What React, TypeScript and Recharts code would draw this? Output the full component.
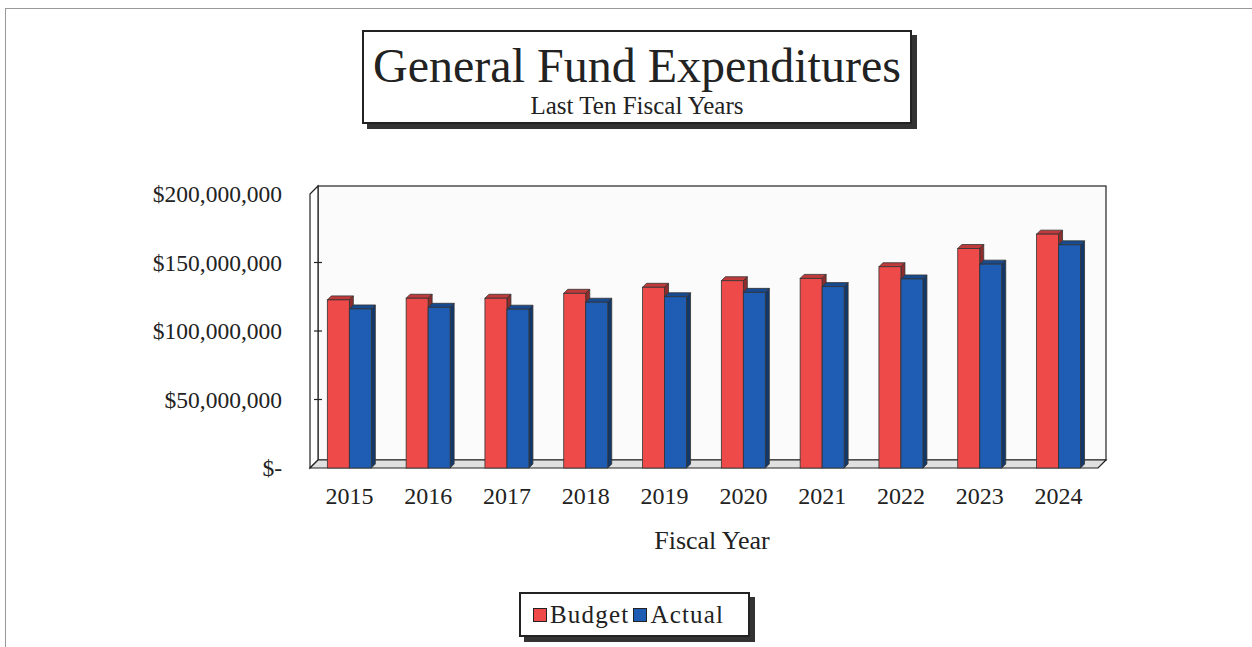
import React from 'react';
import { BarChart, Bar, XAxis, YAxis, ReferenceArea, Legend } from 'recharts';

const years = ['2015', '2016', '2017', '2018', '2019', '2020', '2021', '2022', '2023', '2024'];
const budgetValues = [122700000, 123900000, 123900000, 127500000, 131900000, 136700000, 138400000, 146900000, 160200000, 170700000];
const actualValues = [116100000, 117300000, 115900000, 121000000, 125000000, 128200000, 132400000, 138000000, 148800000, 162900000];
const yTicks = [0, 50000000, 100000000, 150000000, 200000000];
const seriesNames = ['Budget', 'Actual'];
const seriesColors = ['#EF4A4A', '#1E5DB3'];

const data = years.map((y, i) => ({ year: y, Budget: budgetValues[i], Actual: actualValues[i] }));

const FONT = '"Liberation Serif", "Times New Roman", serif';
const DEPTH = 8;

function darken(hex: string, f: number) {
  const n = parseInt(hex.slice(1), 16);
  const r = Math.round(((n >> 16) & 255) * f);
  const g = Math.round(((n >> 8) & 255) * f);
  const b = Math.round((n & 255) * f);
  return `rgb(${r},${g},${b})`;
}

const Bar3D = (props: any) => {
  const { x, y, width, height, fill } = props;
  if (height == null || width == null) return null;
  const d = 4;
  const stroke = '#333';
  return (
    <g>
      <path
        d={`M${x},${y} L${x + d},${y - d} L${x + width + d},${y - d} L${x + width},${y} Z`}
        fill={darken(fill, 0.8)}
        stroke={stroke}
        strokeWidth={0.8}
      />
      <path
        d={`M${x + width},${y} L${x + width + d},${y - d} L${x + width + d},${y + height - d} L${x + width},${y + height} Z`}
        fill={darken(fill, 0.6)}
        stroke={stroke}
        strokeWidth={0.8}
      />
      <rect x={x} y={y} width={width} height={height} fill={fill} stroke={stroke} strokeWidth={0.8} />
    </g>
  );
};

const Frame3D = (props: any) => {
  const { x, y, width, height } = props;
  const d = DEPTH;
  const s = '#222';
  const bottom = y + height;
  return (
    <g>
      <rect x={x + d} y={y - d} width={width} height={height} fill="#fbfbfb" stroke={s} strokeWidth={1.2} />
      <path
        d={`M${x},${y} L${x + d},${y - d} L${x + d},${bottom - d} L${x},${bottom} Z`}
        fill="#ffffff"
        stroke={s}
        strokeWidth={1.2}
      />
      <path
        d={`M${x},${bottom} L${x + d},${bottom - d} L${x + width + d},${bottom - d} L${x + width},${bottom} Z`}
        fill="#e0e0e0"
        stroke={s}
        strokeWidth={1.2}
      />
    </g>
  );
};

const YTick = (props: any) => {
  const { x, y, payload } = props;
  const v = payload.value as number;
  const label = v === 0 ? '$-' : '$' + v.toLocaleString('en-US');
  return (
    <g>
      {v !== 0 && v !== 200000000 && (
        <line x1={x + 12} x2={x + 20} y1={y} y2={y} stroke="#222" strokeWidth={1.2} />
      )}
      <text x={x - 20} y={y} textAnchor="end" dominantBaseline="central" fontFamily={FONT} fontSize={23.5} fill="#222">
        {label}
      </text>
    </g>
  );
};

const XTick = (props: any) => {
  const { x, y, payload } = props;
  return (
    <text x={x} y={y + 20} textAnchor="middle" dominantBaseline="central" fontFamily={FONT} fontSize={24} fill="#222">
      {payload.value}
    </text>
  );
};

const XLabel = (props: any) => {
  const vb = props.viewBox || {};
  const cx = (vb.x || 0) + (vb.width || 0) / 2 + 8;
  const cy = (vb.y || 0) + 72;
  return (
    <text x={cx} y={cy} textAnchor="middle" dominantBaseline="central" fontFamily={FONT} fontSize={26} fill="#222">
      Fiscal Year
    </text>
  );
};

const LegendContent = () => (
  <div
    style={{
      boxSizing: 'border-box',
      width: 231,
      height: 45,
      border: '2px solid #222',
      boxShadow: '5px 5px 0 #333',
      background: '#fff',
      display: 'flex',
      alignItems: 'center',
      justifyContent: 'flex-start',
      paddingLeft: 12,
      fontFamily: FONT,
      fontSize: 25,
      letterSpacing: 1.2,
      color: '#222',
      gap: 4,
    }}
  >
    {seriesNames.map((n, i) => (
      <span key={n} style={{ display: 'flex', alignItems: 'center' }}>
        <span
          style={{
            display: 'inline-block',
            width: 12,
            height: 12,
            background: seriesColors[i],
            border: '1.5px solid #222',
            marginRight: 3,
          }}
        />
        {n}
      </span>
    ))}
  </div>
);

export default function App() {
  return (
    <div style={{ position: 'absolute', left: 0, top: 0, width: 1252, height: 647, background: '#fff', overflow: 'hidden' }}>
      <div
        style={{
          position: 'absolute',
          left: 5,
          top: 8,
          width: 1260,
          height: 660,
          borderTop: '1px solid #999',
          borderLeft: '1px solid #999',
        }}
      />
      <div
        style={{
          position: 'absolute',
          left: 362,
          top: 30,
          width: 550,
          height: 94,
          boxSizing: 'border-box',
          border: '2px solid #222',
          boxShadow: '5px 5px 0 #333',
          background: '#fff',
          fontFamily: FONT,
          color: '#222',
          textAlign: 'center',
        }}
      >
        <div style={{ fontSize: 48, lineHeight: '52px', marginTop: 8 }}>General Fund Expenditures</div>
        <div style={{ fontSize: 25, lineHeight: '28px' }}>Last Ten Fiscal Years</div>
      </div>
      <div style={{ position: 'absolute', left: 0, top: 0 }}>
        <BarChart
          width={1252}
          height={647}
          data={data}
          margin={{ top: 194, right: 154, bottom: 149, left: 110 }}
          barCategoryGap="22%"
          barGap={0}
        >
          <ReferenceArea y1={0} y2={200000000} shape={<Frame3D />} ifOverflow="visible" zIndex={-10} />
          <XAxis
            dataKey="year"
            axisLine={false}
            tickLine={false}
            tick={<XTick />}
            interval={0}
            height={30}
            label={<XLabel />}
          />
          <YAxis
            width={200}
            domain={[0, 200000000]}
            ticks={yTicks}
            axisLine={false}
            tickLine={false}
            tick={<YTick />}
            interval={0}
          />
          <Bar dataKey="Budget" fill={seriesColors[0]} shape={<Bar3D />} isAnimationActive={false} />
          <Bar dataKey="Actual" fill={seriesColors[1]} shape={<Bar3D />} isAnimationActive={false} />
          <Legend
            layout="horizontal"
            verticalAlign="middle"
            content={<LegendContent />}
            wrapperStyle={{ position: 'absolute', left: 519, top: 592, width: 231, height: 45 }}
          />
        </BarChart>
      </div>
    </div>
  );
}
